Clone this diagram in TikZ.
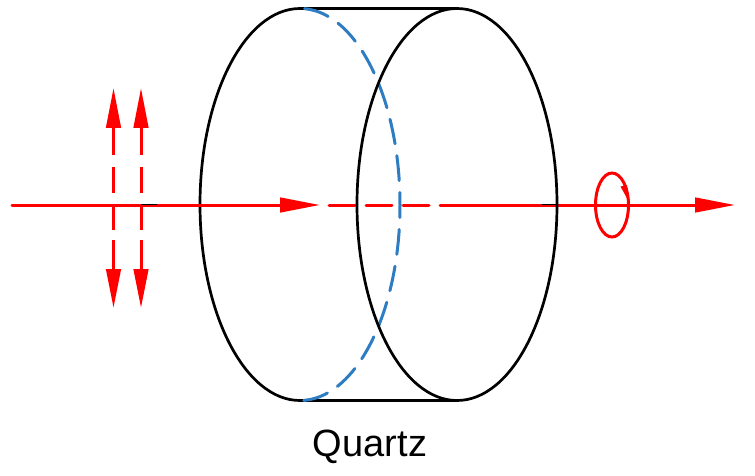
\documentclass[tikz,border=0pt]{standalone}
\usepackage{fontspec}
\setmainfont{Liberation Sans}
\usetikzlibrary{arrows.meta}
\definecolor{beamred}{RGB}{255,0,0}
\definecolor{hiddenblue}{RGB}{46,125,194}
\tikzset{
  outline/.style={draw=black,line width=2.7pt},
  beam/.style={draw=beamred,line width=3pt},
  beamhead/.style={-{Triangle[length=#1,width=14.5pt,fill=beamred]}},
  hiddenedge/.style={draw=hiddenblue,line width=3pt,line cap=round,dash pattern=on 25pt off 12pt,dash phase=12.5pt},
  dashpiece/.style={beam,line cap=round},
}
\begin{document}
\begin{tikzpicture}[x=1pt,y=-1pt]
\useasboundingbox (0,0) rectangle (755,476);
% coordinates
\coordinate (axisstart) at (12,205);
\coordinate (axistip) at (320,205);
\coordinate (axisresume) at (440,205);
\coordinate (axisend) at (735,205);
% back of the cylinder
\draw[outline] (300,8.5) arc[start angle=-90,end angle=-270,x radius=100,y radius=196];
\draw[outline] (300,8.5) -- (457,8.5);
\draw[outline] (300,400.5) -- (457,400.5);
% main beam
\draw[beam,line cap=round,beamhead=40pt] (axisstart) -- (axistip);
\draw[dashpiece] (329,205) -- (355,205);
\draw[dashpiece] (366,205) -- (392,205);
\draw[dashpiece] (403,205) -- (429,205);
\draw[beam,line cap=round,beamhead=40pt] (axisresume) -- (axisend);
% hidden edge
\draw[hiddenedge] (400,205) arc[start angle=0,end angle=-90,x radius=100,y radius=196.5];
\draw[hiddenedge] (400,205) arc[start angle=0,end angle=90,x radius=100,y radius=195.5];
% front of the cylinder
\draw[outline] (457,204.5) ellipse[x radius=100,y radius=196];
\draw[black,line width=1.2pt] (141,204.5) -- (157,204.5);
\draw[black,line width=1.2pt] (542,204.5) -- (557,204.5);
% dashed polarisation arrows
\foreach \x in {113.5,141}{
  \draw[beam,beamhead=40pt] (\x,155) -- (\x,88);
  \draw[beam] (\x,167) -- (\x,193);
  \draw[beam] (\x,207) -- (\x,230);
  \draw[beam,beamhead=39pt] (\x,240) -- (\x,308);
}
% circular polarisation
\draw[beam] (612,205) ellipse[x radius=16.5,y radius=32];
\fill[beamred] (620.5,186.5) -- (627,185) -- (628.5,201) -- cycle;
% label
\node[font=\fontsize{38}{38}\selectfont,anchor=base,inner sep=0pt] (label) at (370,456.5) {Quartz};
\end{tikzpicture}
\end{document}
